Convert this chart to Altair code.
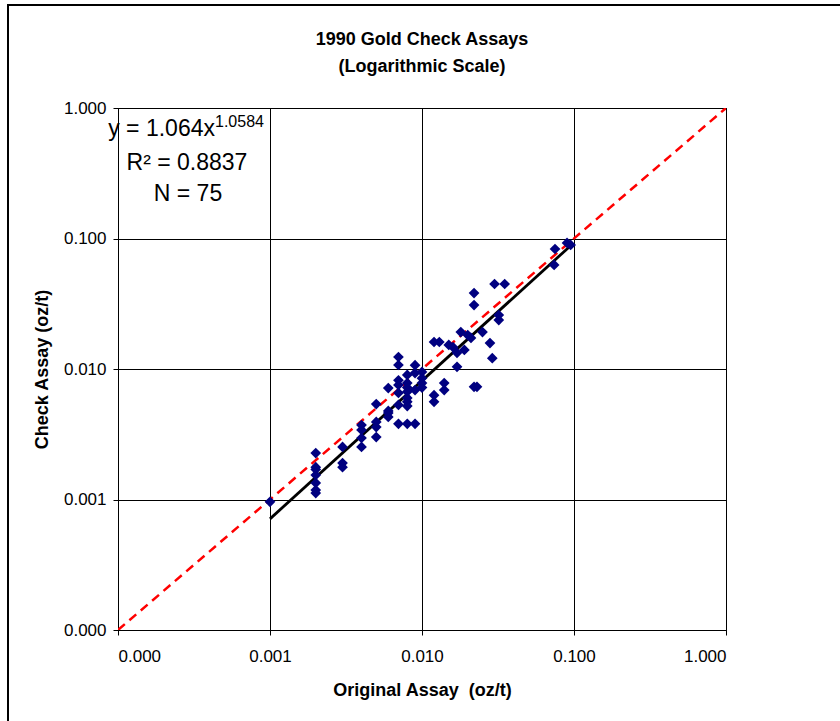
import altair as alt
import pandas as pd

# 1990 gold check assays: original vs. check assay, oz/t
original_assay = [
    0.001, 0.002, 0.002, 0.002, 0.002, 0.002, 0.002, 0.002,
    0.003, 0.003, 0.003, 0.004, 0.004, 0.004, 0.004,
    0.005, 0.005, 0.005, 0.005, 0.006, 0.006, 0.006, 0.006,
    0.007, 0.007, 0.007, 0.007, 0.007, 0.007, 0.007,
    0.008, 0.008, 0.008, 0.008, 0.008, 0.008, 0.008, 0.008,
    0.009, 0.009, 0.009, 0.009, 0.010, 0.010, 0.010, 0.010,
    0.012, 0.012, 0.012, 0.013, 0.014, 0.014, 0.015, 0.016,
    0.017, 0.017, 0.018, 0.019, 0.020, 0.021, 0.022, 0.022,
    0.022, 0.023, 0.025, 0.028, 0.029, 0.030, 0.032, 0.032,
    0.035, 0.074, 0.075, 0.090, 0.095,
]
check_assay = [
    0.00096, 0.00227, 0.00177, 0.00170, 0.00154, 0.00134, 0.00118, 0.00112,
    0.00253, 0.00190, 0.00177, 0.00372, 0.00341, 0.00296, 0.00253,
    0.00539, 0.00393, 0.00359, 0.00301, 0.00715, 0.00477, 0.00460, 0.00429,
    0.01236, 0.01073, 0.00820, 0.00754, 0.00655, 0.00530, 0.00380,
    0.00900, 0.00780, 0.00720, 0.00670, 0.00600, 0.00560, 0.00520, 0.00380,
    0.01070, 0.00930, 0.00690, 0.00380, 0.00950, 0.00850, 0.00780, 0.00720,
    0.01610, 0.00630, 0.00560, 0.01610, 0.00780, 0.00690, 0.01530, 0.01470,
    0.01330, 0.01040, 0.01920, 0.01400, 0.01820, 0.01730, 0.03820, 0.03090,
    0.00730, 0.00730, 0.01920, 0.01580, 0.01210, 0.04480, 0.02590, 0.02370,
    0.04480, 0.06270, 0.08310, 0.09240, 0.08920,
]

# Power-law fit y = 1.064 x^1.0584 over the data range
fit_coef = 1.064
fit_exp = 1.0584
fit_x = [0.001, 0.095]
fit_y = [fit_coef * v ** fit_exp for v in fit_x]

# 1:1 reference line
one_to_one = [0.0001, 1.0]

tick_values = [0.0001, 0.001, 0.01, 0.1, 1.0]

title_lines = ["1990 Gold Check Assays", "(Logarithmic Scale)"]

FONT = "Liberation Sans"

points = pd.DataFrame({"orig": original_assay, "check": check_assay})
fit = pd.DataFrame({"orig": fit_x, "check": fit_y})
ref = pd.DataFrame({"orig": one_to_one, "check": one_to_one})

x_scale = alt.Scale(type="log", domain=[0.0001, 1.0], nice=False)
y_scale = alt.Scale(type="log", domain=[0.0001, 1.0], nice=False)

x_axis = alt.Axis(
    title="Original Assay\u00a0 (oz/t)", values=tick_values, format=".3f",
    titlePadding=17, labelPadding=13,
)
y_axis = alt.Axis(
    title="Check Assay (oz/t)", values=tick_values, format=".3f",
    titlePadding=12,
)

ref_line = alt.Chart(ref).mark_line(
    color="#FF0000", strokeWidth=2.5, strokeDash=[9, 6], clip=True
).encode(
    x=alt.X("orig:Q", scale=x_scale, axis=x_axis),
    y=alt.Y("check:Q", scale=y_scale, axis=y_axis),
)

fit_line = alt.Chart(fit).mark_line(color="black", strokeWidth=2.8).encode(
    x=alt.X("orig:Q", scale=x_scale),
    y=alt.Y("check:Q", scale=y_scale),
)

scatter = alt.Chart(points).mark_point(
    shape="diamond", filled=True, size=115, color="#000080", opacity=1
).encode(
    x=alt.X("orig:Q", scale=x_scale),
    y=alt.Y("check:Q", scale=y_scale),
)

# Two-line chart title above the plot
title_text = alt.Chart(
    pd.DataFrame({"t": title_lines, "row": [0, 1]})
).mark_text(
    font=FONT, fontSize=18, fontWeight="bold", align="center",
    baseline="middle", color="black", dy=-68,
).encode(
    text="t:N",
    x=alt.value(304),
    y=alt.Y("row:Q", scale=alt.Scale(domain=[0, 1], range=[0, 27]), axis=None),
)

# Regression annotation
anno_main = alt.Chart(pd.DataFrame({"t": ["y = 1.064x"]})).mark_text(
    font=FONT, fontSize=23, align="right", baseline="alphabetic", color="black"
).encode(text="t:N", x=alt.value(97), y=alt.value(28))

anno_sup = alt.Chart(pd.DataFrame({"t": ["1.0584"]})).mark_text(
    font=FONT, fontSize=16, align="left", baseline="alphabetic", color="black"
).encode(text="t:N", x=alt.value(97), y=alt.value(19))

anno_r2 = alt.Chart(pd.DataFrame({"t": ["R² = 0.8837"]})).mark_text(
    font=FONT, fontSize=23, align="center", baseline="alphabetic", color="black"
).encode(text="t:N", x=alt.value(69), y=alt.value(62))

anno_n = alt.Chart(pd.DataFrame({"t": ["N = 75"]})).mark_text(
    font=FONT, fontSize=23, align="center", baseline="alphabetic", color="black"
).encode(text="t:N", x=alt.value(70), y=alt.value(93))

# Outer frame edges (left and top)
frame_left = alt.Chart(pd.DataFrame({"k": [0]})).mark_rule(
    color="black", strokeWidth=2
).encode(x=alt.value(-110), y=alt.value(-103), y2=alt.value(613))

frame_top = alt.Chart(pd.DataFrame({"k": [0]})).mark_rule(
    color="black", strokeWidth=2
).encode(x=alt.value(-111), x2=alt.value(722), y=alt.value(-103))

main = alt.layer(
    ref_line, fit_line, scatter, anno_main, anno_sup, anno_r2, anno_n,
    frame_left, frame_top,
)

chart = alt.layer(main, title_text).resolve_scale(y="independent").properties(
    width=608,
    height=522,
    padding={"left": 118, "top": 108, "right": 114, "bottom": 91},
    autosize=alt.AutoSizeParams(type="none"),
    background="white",
).configure_view(
    stroke="black", strokeWidth=1
).configure_axis(
    grid=True, gridColor="black", gridOpacity=1, gridWidth=1,
    domainColor="black", domainWidth=1,
    tickColor="black", tickSize=5, tickWidth=1,
    labelFont=FONT, labelFontSize=17, labelColor="black", labelPadding=7,
    titleFont=FONT, titleFontSize=18, titleFontWeight="bold", titleColor="black",
)

chart.save("out.html", embed_options={"renderer": "svg", "actions": False})
